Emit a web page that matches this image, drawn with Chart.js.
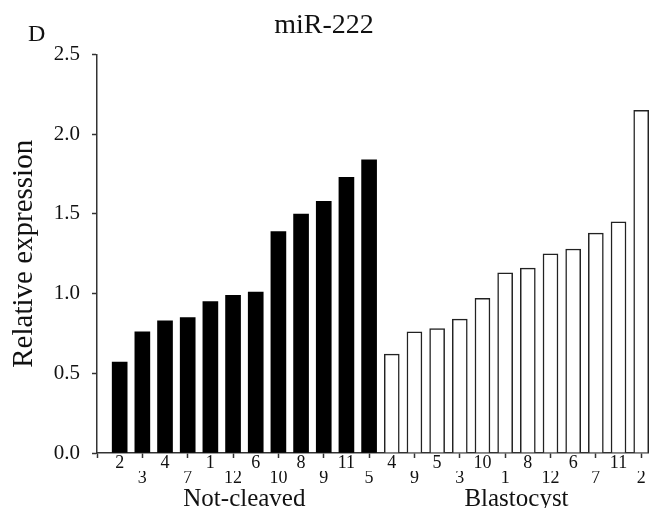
<!DOCTYPE html>
<html>
<head>
<meta charset="utf-8">
<script src="https://cdn.jsdelivr.net/npm/chart.js@4/dist/chart.umd.min.js"></script>
<style>
  html, body { margin: 0; padding: 0; background: #fff; }
  #wrap { position: relative; width: 653px; height: 508px; }
</style>
</head>
<body>
<div id="wrap"><canvas id="c" width="653" height="508"></canvas></div>
<script>
// ---- data ----
const chartTitle = 'miR-222';
const panelLetter = 'D';
const groupNames = ['Not-cleaved', 'Blastocyst'];
const notCleavedIds = ['2', '3', '4', '7', '1', '12', '6', '10', '8', '9', '11', '5'];
const notCleavedValues = [0.57, 0.76, 0.83, 0.85, 0.95, 0.99, 1.01, 1.39, 1.50, 1.58, 1.73, 1.84];
const blastocystIds = ['4', '9', '5', '3', '10', '1', '8', '12', '6', '7', '11', '2'];
const blastocystValues = [0.62, 0.76, 0.78, 0.84, 0.97, 1.13, 1.16, 1.25, 1.28, 1.38, 1.45, 2.15];
const yTicks = [0, 0.5, 1.0, 1.5, 2.0, 2.5];

// ---- build ----
const allIds = notCleavedIds.concat(blastocystIds);
const n1 = notCleavedIds.length;
const ncData = notCleavedValues.map((v, i) => ({ x: i, y: v }));
const blData = blastocystValues.map((v, i) => ({ x: n1 + i, y: v }));
const groupCenters = [(n1 - 1) / 2, n1 + (blastocystIds.length - 1) / 2];
const xMin = -1, xMax = allIds.length - 0.7;
const serif = '"Liberation Serif", "Times New Roman", serif';
const ink = '#111';
const axisColor = '#333';

const letterPlugin = {
  id: 'panelLetter',
  afterDraw(chart) {
    const ctx = chart.ctx;
    ctx.save();
    ctx.font = '24px ' + serif;
    ctx.fillStyle = ink;
    ctx.textBaseline = 'alphabetic';
    ctx.fillText(panelLetter, 28, 41);
    ctx.restore();
  }
};

function idTicks(scale) {
  const t = [];
  for (let i = -1; i < allIds.length; i++) t.push({ value: i });
  scale.ticks = t;
}

new Chart(document.getElementById('c'), {
  type: 'bar',
  data: {
    datasets: [
      { label: groupNames[0], data: ncData, backgroundColor: '#000', borderColor: '#000', borderWidth: 0,
        barThickness: 15, grouped: false, clip: false },
      { label: groupNames[1], data: blData, backgroundColor: '#fff', borderColor: '#222', borderWidth: 1.5,
        barThickness: 15, grouped: false, clip: false }
    ]
  },
  plugins: [letterPlugin],
  options: {
    responsive: false,
    animation: false,
    devicePixelRatio: 1,
    layout: { padding: { left: 0, right: 5, top: 0, bottom: 0 } },
    plugins: {
      legend: { display: false },
      tooltip: { enabled: false },
      title: {
        display: true,
        text: chartTitle,
        color: ink,
        font: { family: serif, size: 28, weight: 'normal' },
        padding: { top: 9, bottom: 12 }
      }
    },
    scales: {
      x: {
        type: 'linear',
        position: 'bottom',
        weight: 0,
        offset: false,
        min: xMin,
        max: xMax,
        afterBuildTicks: idTicks,
        afterFit(scale) { scale.height = 18; },
        border: { display: true, color: axisColor, width: 1.5 },
        grid: {
          offset: false,
          drawOnChartArea: false,
          drawTicks: true,
          tickLength: 5,
          tickWidth: 1.5,
          tickColor: (ctx) => (ctx.tick && Math.abs(ctx.tick.value % 2) === 1) ? axisColor : 'rgba(0,0,0,0)'
        },
        ticks: {
          autoSkip: false,
          maxRotation: 0,
          minRotation: 0,
          padding: -3.5,
          color: ink,
          font: { family: serif, size: 18, lineHeight: 1 },
          callback: (value) => (value >= 0 && value % 2 === 0) ? allIds[value] : ''
        }
      },
      xLow: {
        type: 'linear',
        axis: 'x',
        position: 'bottom',
        weight: 1,
        offset: false,
        min: xMin,
        max: xMax,
        afterBuildTicks: idTicks,
        afterFit(scale) { scale.height = 15; },
        border: { display: false },
        grid: { display: false, drawTicks: false, drawOnChartArea: false, offset: false },
        ticks: {
          autoSkip: false,
          maxRotation: 0,
          minRotation: 0,
          padding: -2,
          color: ink,
          font: { family: serif, size: 18, lineHeight: 1 },
          callback: (value) => (value >= 0 && value % 2 === 1) ? allIds[value] : ''
        }
      },
      x2: {
        type: 'linear',
        axis: 'x',
        position: 'bottom',
        weight: 2,
        offset: false,
        min: xMin,
        max: xMax,
        afterBuildTicks(scale) {
          scale.ticks = groupCenters.map(v => ({ value: v }));
        },
        afterFit(scale) { scale.height = 22; },
        border: { display: false },
        grid: { display: false, drawTicks: false, drawOnChartArea: false, offset: false },
        ticks: {
          autoSkip: false,
          maxRotation: 0,
          padding: -2,
          color: ink,
          font: { family: serif, size: 25 },
          callback: (value, index) => groupNames[index]
        }
      },
      y: {
        type: 'linear',
        min: yTicks[0],
        max: yTicks[yTicks.length - 1],
        afterBuildTicks(scale) {
          scale.ticks = yTicks.map(v => ({ value: v }));
        },
        afterFit(scale) { scale.width = 97; },
        border: { display: true, color: axisColor, width: 1.5 },
        grid: { drawOnChartArea: false, drawTicks: true, tickLength: 5, tickWidth: 1.5, tickColor: axisColor },
        ticks: {
          padding: 12,
          color: ink,
          font: { family: serif, size: 21 },
          callback: (v) => Number(v).toFixed(1)
        },
        title: {
          display: true,
          text: 'Relative expression',
          color: ink,
          font: { family: serif, size: 29 },
          padding: { top: 7, bottom: 0 }
        }
      }
    }
  }
});
</script>
</body>
</html>
